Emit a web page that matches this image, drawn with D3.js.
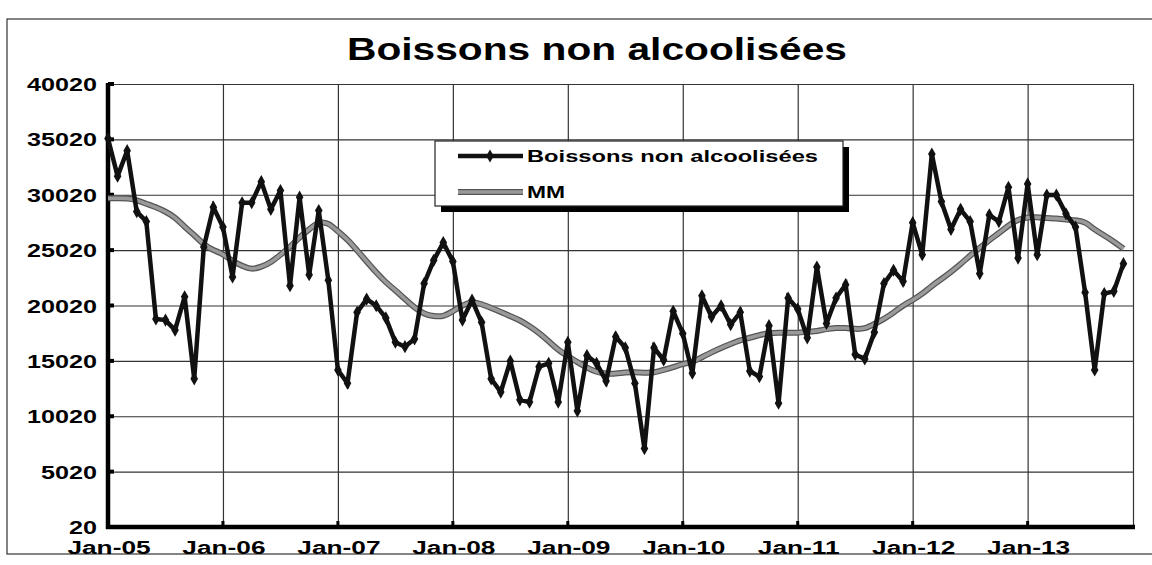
<!DOCTYPE html>
<html>
<head>
<meta charset="utf-8">
<script src="https://cdn.jsdelivr.net/npm/d3@7"></script>
<style>
  body { margin: 0; background: #fff; }
  svg { display: block; font-family: "Liberation Sans", Arial, sans-serif; }
</style>
</head>
<body>
<svg id="chart" width="1152" height="565"></svg>
<script>
// monthly data, Jan-05 .. Nov-13
var boissons = [
  35100, 31700, 34000, 28500, 27600, 18800, 18700, 17800, 20800, 13400, 25300, 28900,
  27100, 22600, 29300, 29300, 31200, 28700, 30400, 21800, 29800, 22800, 28600, 22300,
  14200, 13000, 19400, 20600, 20000, 18900, 16700, 16300, 17000, 22000, 24100, 25700,
  24000, 18700, 20500, 18500, 13400, 12200, 15000, 11500, 11300, 14500, 14800, 11300,
  16700, 10500, 15500, 14800, 13200, 17200, 16200, 13000, 7100, 16200, 15100, 19500,
  17500, 13900, 20900, 19000, 20000, 18300, 19400, 14100, 13600, 18200, 11200, 20700,
  19700, 17100, 23500, 18400, 20700, 21900, 15600, 15200, 17600, 22000, 23200, 22200,
  27500, 24600, 33700, 29400, 26900, 28700, 27600, 22900, 28200, 27600, 30700, 24300,
  31000, 24600, 30000, 30000, 28300, 27100, 21200, 14200, 21100, 21300, 23800
];

// moyenne mobile (MM)
var mm = [
  29700, 29700, 29700, 29550, 29200, 28900, 28500, 28000, 27100, 26400, 25500, 25000,
  24700, 24000, 23600, 23250, 23500, 23900, 24600, 25300, 26200, 26900, 27600, 27500,
  26700, 26000, 25000, 24000, 23000, 22100, 21400, 20600, 19800, 19250, 19050, 19000,
  19500, 20050, 20400, 20150, 19800, 19450, 19050, 18700, 18150, 17550, 16800, 16000,
  15450, 14900, 14400, 14000, 13850, 13850, 14000, 14000, 13950, 13950, 14200, 14450,
  14750, 14900, 15350, 15800, 16200, 16550, 16900, 17100, 17350, 17550, 17550, 17550,
  17550, 17650, 17700, 17900, 18000, 18000, 17900, 17900, 18350, 18800, 19350, 20050,
  20500, 21050, 21800, 22400, 23050, 23750, 24550, 25200, 25950, 26550, 27250, 27800,
  28000, 28000, 27900, 27900, 27750, 27750, 27600, 26850, 26350, 25800, 25150
];

var yTicks = [20, 5020, 10020, 15020, 20020, 25020, 30020, 35020, 40020];
var xTickIdx = [0, 12, 24, 36, 48, 60, 72, 84, 96];
var xTickLabels = ["Jan-05", "Jan-06", "Jan-07", "Jan-08", "Jan-09", "Jan-10", "Jan-11", "Jan-12", "Jan-13"];

var svg = d3.select("#chart");

var pLeft = 108, pRight = 1133, pTop = 84, pBottom = 527;

var x = d3.scaleLinear().domain([0, 107]).range([pLeft, pRight]);
var y = d3.scaleLinear().domain([20, 40020]).range([pBottom, pTop]);

// outer frame
svg.append("rect")
  .attr("x", 7).attr("y", 19)
  .attr("width", 1160).attr("height", 535)
  .attr("fill", "none").attr("stroke", "#333").attr("stroke-width", 1.2);

// title
svg.append("text")
  .attr("x", 347).attr("y", 60)
  .attr("textLength", 500).attr("lengthAdjust", "spacingAndGlyphs")
  .attr("font-size", 31).attr("font-weight", "bold")
  .text("Boissons non alcoolisées");

// horizontal grid
svg.append("g")
  .attr("transform", "translate(" + pLeft + ",0)")
  .call(d3.axisLeft(y).tickValues(yTicks).tickSize(-(pRight - pLeft)).tickFormat(""))
  .call(function(g) { g.select(".domain").remove(); })
  .selectAll("line").attr("stroke", "#333").attr("stroke-width", 1.2);

// vertical grid
svg.append("g")
  .attr("transform", "translate(0," + pBottom + ")")
  .call(d3.axisBottom(x).tickValues(xTickIdx.concat([107])).tickSize(-(pBottom - pTop)).tickFormat(""))
  .call(function(g) { g.select(".domain").remove(); })
  .selectAll("line").attr("stroke", "#333").attr("stroke-width", 1.2);

// small tick stubs
svg.selectAll(".ystub").data(yTicks).enter().append("line")
  .attr("x1", pLeft).attr("x2", pLeft + 6)
  .attr("y1", function(d) { return y(d); }).attr("y2", function(d) { return y(d); })
  .attr("stroke", "#000").attr("stroke-width", 4);
svg.selectAll(".xstub").data(xTickIdx).enter().append("line")
  .attr("x1", function(d) { return x(d); }).attr("x2", function(d) { return x(d); })
  .attr("y1", pBottom).attr("y2", pBottom - 6)
  .attr("stroke", "#000").attr("stroke-width", 3);

// axes
svg.append("line").attr("x1", pLeft).attr("x2", pLeft).attr("y1", pTop - 1).attr("y2", pBottom + 2)
  .attr("stroke", "#000").attr("stroke-width", 4.5);
svg.append("line").attr("x1", pLeft - 2).attr("x2", pRight + 2).attr("y1", pBottom).attr("y2", pBottom)
  .attr("stroke", "#000").attr("stroke-width", 4.5);

// y labels
svg.selectAll(".ylab").data(yTicks).enter().append("text")
  .attr("transform", function(d) { return "translate(97," + (y(d) + 7) + ") scale(1.4,1)"; })
  .attr("text-anchor", "end")
  .attr("font-size", 18).attr("font-weight", "bold")
  .text(function(d) { return d; });

// x labels
svg.selectAll(".xlab").data(xTickIdx).enter().append("text")
  .attr("transform", function(d) { return "translate(" + (x(d) + 1) + ",554) scale(1.42,1)"; })
  .attr("text-anchor", "middle")
  .attr("font-size", 18.5).attr("font-weight", "bold")
  .text(function(d, i) { return xTickLabels[i]; });

// moving average
var line = d3.line()
  .x(function(d, i) { return x(i); })
  .y(function(d) { return y(d); });
var smooth = d3.line()
  .x(function(d, i) { return x(i); })
  .y(function(d) { return y(d); })
  .curve(d3.curveBasis);

svg.append("path").datum(mm).attr("d", smooth)
  .attr("fill", "none").attr("stroke", "#555").attr("stroke-width", 6);
svg.append("path").datum(mm).attr("d", smooth)
  .attr("fill", "none").attr("stroke", "#9a9a9a").attr("stroke-width", 3.5);

// main series
svg.append("path").datum(boissons).attr("d", line)
  .attr("fill", "none").attr("stroke", "#111").attr("stroke-width", 4.5)
  .attr("stroke-linejoin", "miter").attr("stroke-miterlimit", 3);

var diamond = d3.symbol().type(d3.symbolDiamond).size(50);
svg.selectAll(".pt").data(boissons).enter().append("path")
  .attr("d", diamond)
  .attr("transform", function(d, i) { return "translate(" + x(i) + "," + y(d) + ")"; })
  .attr("fill", "#111");

// legend
var lg = svg.append("g");
lg.append("rect").attr("x", 441).attr("y", 147).attr("width", 408).attr("height", 65).attr("fill", "#000");
lg.append("rect").attr("x", 435).attr("y", 141).attr("width", 408).attr("height", 65)
  .attr("fill", "#fff").attr("stroke", "#222").attr("stroke-width", 1.2);

lg.append("line").attr("x1", 458).attr("x2", 523).attr("y1", 156).attr("y2", 156)
  .attr("stroke", "#111").attr("stroke-width", 4.5);
lg.append("path").attr("d", diamond).attr("transform", "translate(490,156)").attr("fill", "#111");
lg.append("text").attr("x", 527).attr("y", 162)
  .attr("textLength", 291).attr("lengthAdjust", "spacingAndGlyphs")
  .attr("font-size", 17).attr("font-weight", "bold")
  .text("Boissons non alcoolisées");

lg.append("line").attr("x1", 458).attr("x2", 523).attr("y1", 192).attr("y2", 192)
  .attr("stroke", "#555").attr("stroke-width", 6);
lg.append("line").attr("x1", 458).attr("x2", 523).attr("y1", 192).attr("y2", 192)
  .attr("stroke", "#9a9a9a").attr("stroke-width", 3.5);
lg.append("text").attr("x", 527).attr("y", 198)
  .attr("textLength", 38).attr("lengthAdjust", "spacingAndGlyphs")
  .attr("font-size", 17).attr("font-weight", "bold")
  .text("MM");
</script>
</body>
</html>
